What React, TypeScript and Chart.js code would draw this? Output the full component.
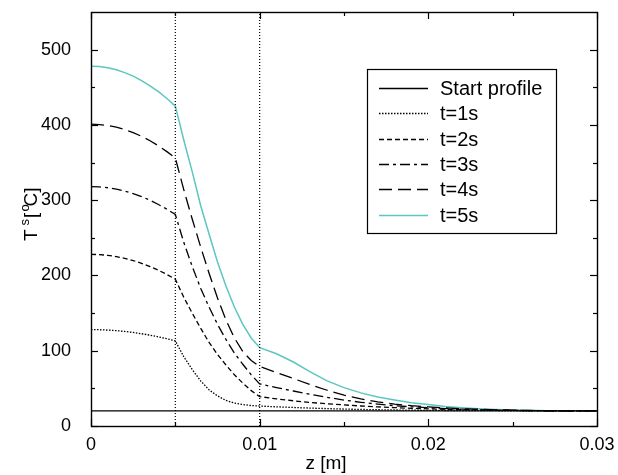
import React, { useEffect, useRef } from 'react';
import { Chart, registerables } from 'chart.js';

Chart.register(...registerables);

// Position along z [m]
const Z = [0, 0.0005, 0.001, 0.0015, 0.002, 0.0025, 0.003, 0.0035, 0.004, 0.0045, 0.005,
  0.0055, 0.006, 0.0065, 0.007, 0.0075, 0.008, 0.0085, 0.009, 0.0095, 0.01,
  0.011, 0.012, 0.013, 0.014, 0.015, 0.016, 0.017, 0.018, 0.019, 0.02, 0.021, 0.022, 0.023, 0.024, 0.025, 0.026, 0.027, 0.028, 0.029, 0.03];

// Temperature profiles [°C]
const T1 = [128, 127.9, 127.4, 126.7, 125.6, 124.3, 122.6, 120.7, 118.4, 115.9, 113,
  92, 75, 60, 48, 40, 34, 30.5, 28.5, 27.2, 26.5,
  25.5, 24.6, 23.8, 23.1, 22.5, 22, 21.6, 21.3, 21, 20.8, 20.6, 20.5, 20.4, 20.3, 20.2, 20.1, 20.1, 20, 20, 20];
const T2 = [228, 227.7, 226.7, 225, 222.7, 219.8, 216.1, 211.8, 206.9, 201.3, 195,
  171, 150, 130, 111, 95, 81, 68, 57, 47, 39,
  36, 33.5, 31.3, 29.5, 28, 26.6, 25.4, 24.4, 23.5, 22.8, 22.2, 21.7, 21.3, 21, 20.7, 20.5, 20.3, 20.2, 20.1, 20];
const T3 = [318, 317.6, 316.5, 314.7, 312.1, 308.8, 304.7, 299.9, 294.3, 288, 281,
  244, 212, 183, 158, 135, 115, 97, 82, 68, 56,
  51, 46.5, 42, 38, 34.5, 31.5, 29, 27, 25.5, 24.3, 23.2, 22.3, 21.6, 21.1, 20.7, 20.4, 20.2, 20.1, 20, 20];
const T4 = [401, 400.5, 399.2, 397, 393.8, 389.8, 384.8, 379, 372.2, 364.5, 356,
  314, 275, 238, 203, 170, 141, 117, 99, 87, 79,
  71, 63, 55, 47.5, 41, 36, 32, 29, 27, 25.5, 24, 23, 22.2, 21.5, 21, 20.6, 20.3, 20.2, 20.1, 20];
const T5 = [478, 477.5, 475.9, 473.2, 469.5, 464.8, 458.9, 452, 444.1, 435.1, 425,
  380, 338, 293, 255, 218, 186, 158, 135, 117, 104,
  96, 85, 72, 60, 51, 44, 38.5, 34.5, 31, 28.5, 26, 24.3, 23, 22, 21.3, 20.8, 20.4, 20.2, 20.1, 20];

const START_Z = [0, 0.03];
const START_T = [20, 20];

const BOUNDARIES = [0.005, 0.01];

const X_MAJOR = [0, 0.01, 0.02, 0.03];
const X_TICK_LABELS = ['0', '0.01', '0.02', '0.03'];
const X_MINOR = [0.005, 0.015, 0.025];
const Y_MAJOR = [0, 100, 200, 300, 400, 500];
const Y_TICK_LABELS = ['0', '100', '200', '300', '400', '500'];
const Y_MINOR = [50, 150, 250, 350, 450];

const FONT = '"Liberation Sans", Arial, Helvetica, sans-serif';
const CYAN = '#5cc6c0';

const pts = (xs: number[], ys: number[]) => xs.map((x, i) => ({ x, y: ys[i] }));

const noPad = (s: any) => {
  s.paddingLeft = 0;
  s.paddingRight = 0;
  s.paddingTop = 0;
  s.paddingBottom = 0;
};

const overlayPlugin = {
  id: 'overlay',
  afterDraw(chart: any) {
    const { ctx, chartArea: a, scales } = chart;
    const xs = scales.x;
    const ys = scales.y;
    ctx.save();
    ctx.strokeStyle = '#000';
    ctx.lineWidth = 1.4;
    ctx.setLineDash([]);
    ctx.strokeRect(a.left + 0.5, a.top + 0.5, a.right - a.left, a.bottom - a.top);
    const line = (x1: number, y1: number, x2: number, y2: number) => {
      ctx.beginPath();
      ctx.moveTo(x1, y1);
      ctx.lineTo(x2, y2);
      ctx.stroke();
    };
    ctx.lineWidth = 1.2;
    const yTick = (v: number, len: number) => {
      const y = Math.round(ys.getPixelForValue(v)) + 0.5;
      line(a.left, y, a.left + len, y);
      line(a.right, y, a.right - len, y);
    };
    const xTick = (v: number, len: number) => {
      const x = Math.round(xs.getPixelForValue(v)) + 0.5;
      line(x, a.bottom, x, a.bottom - len);
      line(x, a.top, x, a.top + len);
    };
    Y_MAJOR.forEach((v) => yTick(v, 7));
    Y_MINOR.forEach((v) => yTick(v, 4));
    X_MAJOR.forEach((v) => xTick(v, 7));
    X_MINOR.forEach((v) => xTick(v, 4));

    // Legend
    const items = chart.data.datasets.filter((d: any) => d.label);
    const bx = 367, by = 69, bw = 189, bh = 164;
    ctx.fillStyle = '#fff';
    ctx.fillRect(bx, by, bw, bh);
    ctx.strokeStyle = '#000';
    ctx.lineWidth = 1.2;
    ctx.strokeRect(bx + 0.5, by + 0.5, bw, bh);
    ctx.font = `20px ${FONT}`;
    ctx.textBaseline = 'middle';
    ctx.textAlign = 'left';
    items.forEach((d: any, i: number) => {
      const y = Math.round(by + 19 + i * 25.3) + 0.5;
      ctx.strokeStyle = d.borderColor;
      ctx.lineWidth = d.borderWidth || 1;
      ctx.setLineDash(d.borderDash || []);
      line(379, y, 428, y);
      ctx.setLineDash([]);
      ctx.fillStyle = '#000';
      ctx.fillText(d.label, 440, y + 1);
    });

    // X title
    ctx.fillStyle = '#000';
    ctx.font = `19px ${FONT}`;
    ctx.textAlign = 'center';
    ctx.textBaseline = 'middle';
    ctx.fillText('z [m]', 326, 464);

    // Y title with superscripts
    ctx.save();
    ctx.translate(27, 241);
    ctx.rotate(-Math.PI / 2);
    ctx.textAlign = 'left';
    ctx.textBaseline = 'alphabetic';
    const big = `19px ${FONT}`;
    const small = `13px ${FONT}`;
    let u = 0;
    ctx.font = big;
    ctx.fillText('T', u, 10);
    u += ctx.measureText('T').width + 4;
    ctx.font = small;
    ctx.fillText('s', u, 2);
    u += ctx.measureText('s').width + 1;
    ctx.font = big;
    ctx.fillText('[', u, 10);
    u += ctx.measureText('[').width + 1;
    ctx.font = small;
    ctx.fillText('o', u, 2);
    u += ctx.measureText('o').width - 2;
    ctx.font = big;
    ctx.fillText('C]', u, 10);
    ctx.restore();

    ctx.restore();
  },
};

export default function App() {
  const ref = useRef<HTMLCanvasElement>(null);
  useEffect(() => {
    if (!ref.current) return;
    const boundarySets = BOUNDARIES.map((b) => ({
      label: '',
      data: [{ x: b, y: 0 }, { x: b, y: 550 }],
      borderColor: '#000',
      borderWidth: 1.2,
      borderDash: [1, 2],
      pointRadius: 0,
      fill: false,
    }));
    const common = { pointRadius: 0, fill: false, tension: 0, borderWidth: 1.3 };
    const chart = new Chart(ref.current, {
      type: 'line',
      data: {
        datasets: [
          ...boundarySets,
          { ...common, label: 'Start profile', data: pts(START_Z, START_T), borderColor: '#000' },
          { ...common, label: 't=1s', data: pts(Z, T1), borderColor: '#000', borderDash: [1.5, 1.5] },
          { ...common, label: 't=2s', data: pts(Z, T2), borderColor: '#000', borderDash: [5, 3] },
          { ...common, label: 't=3s', data: pts(Z, T3), borderColor: '#000', borderDash: [10, 4, 3, 4] },
          { ...common, label: 't=4s', data: pts(Z, T4), borderColor: '#000', borderDash: [13, 6] },
          { ...common, label: 't=5s', data: pts(Z, T5), borderColor: CYAN, borderWidth: 1.5 },
        ] as any,
      },
      options: {
        animation: false,
        responsive: false,
        devicePixelRatio: 1,
        layout: { padding: { left: 0, top: 12, right: 21, bottom: 0 } },
        plugins: { legend: { display: false }, tooltip: { enabled: false }, title: { display: false } },
        scales: {
          x: {
            type: 'linear',
            min: 0,
            max: 0.03,
            grid: { display: false },
            border: { display: false },
            afterFit: (s: any) => { s.height = 49; noPad(s); },
            afterBuildTicks: (s: any) => { s.ticks = X_MAJOR.map((v) => ({ value: v })); },
            ticks: {
              autoSkip: false,
              maxRotation: 0,
              padding: 0,
              color: '#000',
              font: { family: FONT, size: 18 },
              callback: (_v: any, i: number) => X_TICK_LABELS[i],
            },
          },
          y: {
            type: 'linear',
            min: 0,
            max: 550,
            grid: { display: false },
            border: { display: false },
            afterFit: (s: any) => { s.width = 91; noPad(s); },
            afterBuildTicks: (s: any) => { s.ticks = Y_MAJOR.map((v) => ({ value: v })); },
            ticks: {
              autoSkip: false,
              padding: 12,
              color: '#000',
              font: { family: FONT, size: 18 },
              callback: (_v: any, i: number) => Y_TICK_LABELS[i],
            },
          },
        },
      },
      plugins: [overlayPlugin],
    });
    return () => chart.destroy();
  }, []);
  return (
    <div style={{ position: 'absolute', left: 0, top: 0, width: 618, height: 475, background: '#fff' }}>
      <canvas ref={ref} width={618} height={475} />
    </div>
  );
}
